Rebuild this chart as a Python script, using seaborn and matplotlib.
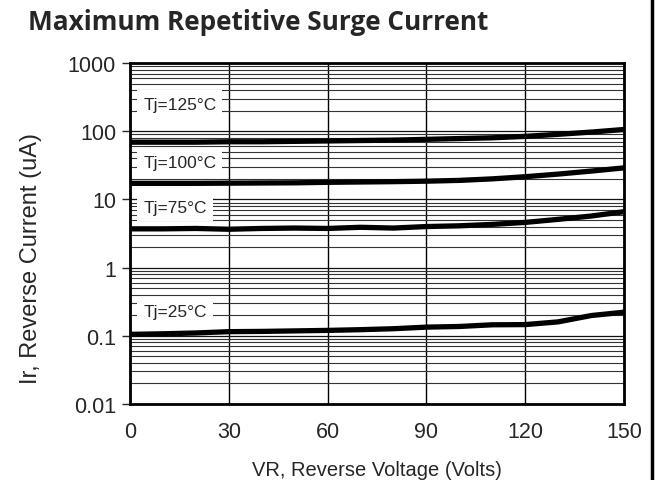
import numpy as np
import pandas as pd
import seaborn as sns
import matplotlib.pyplot as plt
from matplotlib.lines import Line2D
from matplotlib.ticker import LogLocator, NullFormatter

# reverse voltage (V)
voltage = [0, 10, 20, 30, 40, 50, 60, 70, 80, 90, 100, 110, 120, 130, 140, 150]

# reverse current (uA)
ir_125 = [69, 69, 69, 70, 70, 71, 72, 73, 74, 76, 78, 80, 84, 90, 97, 106]
ir_100 = [17.2, 17.2, 17.2, 17.3, 17.4, 17.5, 17.8, 18.0, 18.2, 18.5, 19.0, 20.0, 21.5, 23.5, 26.0, 29.0]
ir_75 = [3.7, 3.7, 3.75, 3.65, 3.75, 3.8, 3.75, 3.9, 3.8, 4.0, 4.1, 4.3, 4.6, 5.1, 5.7, 6.6]
ir_25 = [0.105, 0.107, 0.110, 0.115, 0.116, 0.118, 0.120, 0.123, 0.127, 0.134, 0.137, 0.145, 0.146, 0.160, 0.198, 0.222]

labels = ['Tj=125°C', 'Tj=100°C', 'Tj=75°C', 'Tj=25°C']
label_y = [250, 35, 7.6, 0.225]

df = pd.DataFrame({
    'VR': voltage * 4,
    'Ir': ir_125 + ir_100 + ir_75 + ir_25,
    'Tj': sum([[lab] * len(voltage) for lab in labels], []),
})

sns.set_style('white')
plt.rcParams['font.family'] = ['Liberation Sans', 'DejaVu Sans']

fig = plt.figure(figsize=(6.56, 4.81), dpi=100)
ax = fig.add_axes([130 / 656, 1 - 405 / 481, (624 - 130) / 656, (405 - 64) / 481])

sns.lineplot(data=df, x='VR', y='Ir', hue='Tj', palette=['black'] * 4,
             linewidth=3.8, legend=False, ax=ax, sort=False)

ax.set_yscale('log')
ax.set_ylim(0.01, 1000)
ax.set_xlim(0, 150)
ax.set_xticks([0, 30, 60, 90, 120, 150])
ax.yaxis.set_minor_locator(LogLocator(base=10, subs=np.arange(2, 10), numticks=100))
ax.yaxis.set_minor_formatter(NullFormatter())
ax.set_yticks([0.01, 0.1, 1, 10, 100, 1000])
ax.set_yticklabels(['0.01', '0.1', '1', '10', '100', '1000'])

ax.grid(True, which='major', axis='y', color='#111111', linewidth=0.9)
ax.grid(True, which='minor', axis='y', color='#333333', linewidth=0.8)
ax.grid(True, which='major', axis='x', color='black', linewidth=1.0)
ax.set_axisbelow(True)

ax.tick_params(axis='y', which='major', direction='out', length=6, width=1,
               labelsize=15.5, pad=4, left=True)
ax.tick_params(axis='y', which='minor', length=0)
ax.tick_params(axis='x', length=0, labelsize=15.5, pad=12)
for s in ax.spines.values():
    s.set_linewidth(2)
    s.set_color('black')

ax.set_xlabel('VR, Reverse Voltage (Volts)', fontsize=14.5, labelpad=13)
ax.set_ylabel('Ir, Reverse Current (uA)', fontsize=17)
ax.yaxis.set_label_coords(-0.178, 0.43)

for lab, yv in zip(labels, label_y):
    ax.text(4, yv, lab, fontsize=12.5, ha='left', va='center',
            bbox=dict(boxstyle='square,pad=0.35', facecolor='white', edgecolor='none'))

fig.text(28 / 656, 1 - 22 / 481, 'Maximum Repetitive Surge Current',
         fontsize=18.8, fontweight='bold', family=['Open Sans', 'DejaVu Sans'],
         ha='left', va='center')

# frame line on the right edge
fig.add_artist(Line2D([652 / 656, 652 / 656], [0, 1], color='black', linewidth=2.5))

fig.savefig('out.png', dpi=100)
